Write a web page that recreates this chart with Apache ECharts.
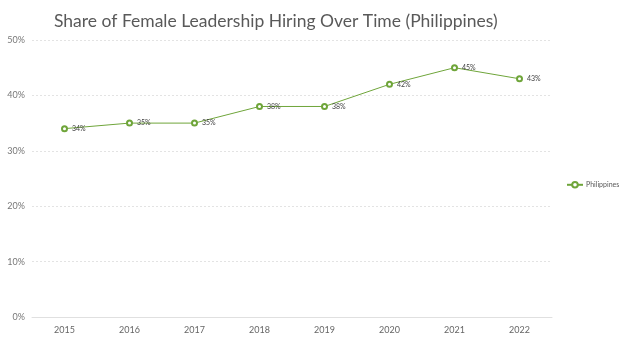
<!DOCTYPE html>
<html>
<head>
<meta charset="utf-8">
<script src="https://cdn.jsdelivr.net/npm/echarts@6/dist/echarts.min.js"></script>
<style>
  html, body { margin: 0; padding: 0; background: #fff; }
  #chart { width: 624px; height: 341px; }
</style>
</head>
<body>
<div id="chart"></div>
<script>
// Years on the x axis
const years = ['2015', '2016', '2017', '2018', '2019', '2020', '2021', '2022'];
// Share of female leadership hires, in percent
const philippines = [34, 35, 35, 38, 38, 42, 45, 43];
// Y axis range and step
const yMin = 0;
const yMax = 50;
const yStep = 10;

const chart = echarts.init(document.getElementById('chart'));
const green = '#6fa53a';
const font = 'Lato, "Open Sans", sans-serif';

chart.setOption({
  animation: false,
  title: {
    text: 'Share of Female Leadership Hiring Over Time (Philippines)',
    left: 49,
    top: 7,
    textStyle: { fontFamily: font, fontSize: 17.5, fontWeight: 'normal', color: '#595959' }
  },
  legend: {
    orient: 'vertical',
    left: 566,
    top: 181,
    padding: 0,
    itemWidth: 16,
    itemHeight: 7,
    itemGap: 4,
    textStyle: { fontFamily: font, fontSize: 7, color: '#595959', padding: [0, 0, 0, -2] },
    data: ['Philippines']
  },
  grid: { left: 32, right: 72, top: 40, bottom: 24 },
  xAxis: {
    type: 'category',
    data: years,
    boundaryGap: true,
    axisLine: { lineStyle: { color: '#e0e0e0' } },
    axisTick: { show: false },
    axisLabel: { fontFamily: font, fontSize: 9, color: '#666', margin: 9 }
  },
  yAxis: {
    type: 'value',
    min: yMin,
    max: yMax,
    interval: yStep,
    axisLine: { show: false },
    axisTick: { show: false },
    axisLabel: { fontFamily: font, fontSize: 9, color: '#777', margin: 7, formatter: v => v + '%' },
    splitLine: { lineStyle: { color: '#e3e3e3', type: [2, 2] } }
  },
  series: [{
    name: 'Philippines',
    type: 'line',
    data: philippines,
    symbol: 'emptyCircle',
    symbolSize: 5,
    lineStyle: { color: green, width: 1 },
    itemStyle: { color: green, borderWidth: 1.5 },
    label: {
      show: true,
      position: 'right',
      distance: 4,
      fontFamily: font,
      fontSize: 7,
      color: '#444',
      formatter: p => p.value + '%'
    }
  }]
});
</script>
</body>
</html>
